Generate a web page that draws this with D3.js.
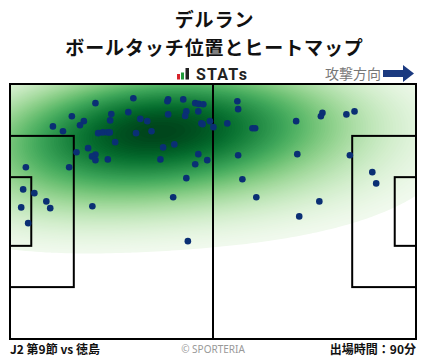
<!DOCTYPE html>
<html><head><meta charset="utf-8">
<script src="https://cdn.jsdelivr.net/npm/d3@7"></script>
<style>body{margin:0;background:#fff;} svg{display:block;}</style>
</head><body><svg id="c" width="428" height="359"></svg>
<script>
// ---- data ----
const titleLines = ["デルラン", "ボールタッチ位置とヒートマップ"];
const brandLabel = "STATs";
const directionLabel = "攻撃方向";
const matchLabel = "J2 第9節 vs 徳島";
const creditLabel = "© SPORTERIA";
const minutesLabel = "出場時間：90分";
const pitchDims = [105, 68];           // metres (length, width)
// ball touch positions (metres from own goal line / top touchline)
const touchX = [22.1,31.9,16.0,19.1,18.1,11.1,13.7,26.2,25.9,30.6,33.7,35.5,32.6,22.8,24.0,25.2,25.8,36.6,27.2,20.2,
  17.2,22.1,21.2,22.1,25.3,4.1,15.3,40.9,40.7,44.8,47.9,48.8,50.0,58.8,59.0,45.6,45.3,48.7,40.9,51.7,
  49.5,49.8,52.6,56.2,62.7,63.4,39.6,42.5,48.7,59.0,38.9,47.9,51.0,74.0,80.8,80.4,87.0,89.1,74.3,87.9,
  3.4,6.3,9.4,10.4,2.9,4.7,21.3,45.6,42.2,46.0,60.1,63.7,80.0,74.8,93.7,94.7];
const touchY = [5.1,3.8,8.6,9.9,11.0,11.3,12.6,8.0,9.7,7.5,9.3,9.9,13.1,13.1,12.9,12.9,12.9,12.6,15.5,17.1,
  18.2,18.8,19.3,20.3,20.1,22.2,22.2,4.1,4.6,4.1,5.1,5.3,5.4,4.6,6.7,7.3,8.5,7.3,8.1,9.9,
  10.5,10.7,11.5,10.5,11.8,11.8,16.9,16.1,18.7,19.0,20.1,21.4,20.3,9.9,7.7,8.6,8.1,7.3,18.7,19.0,
  28.1,29.1,31.3,33.1,32.9,37.1,32.6,25.1,30.2,41.9,25.4,30.2,31.3,35.3,23.5,26.5];
const penaltyBox = [16.5, 40.32];
const goalArea = [5.5, 18.32];

// ---- setup ----
const svg = d3.select("#c");
const x = d3.scaleLinear().domain([0, pitchDims[0]]).range([10, 416]);
const y = d3.scaleLinear().domain([0, pitchDims[1]]).range([84, 339]);

// ---- KDE (gaussian, full covariance, Scott factor * adjust) ----
const bwAdjust = 2.4, thresh = 0.12;
const n = touchX.length;
const mx = d3.mean(touchX), my = d3.mean(touchY);
let sxx = 0, syy = 0, sxy = 0;
for (let i = 0; i < n; i++) {
  const dx = touchX[i] - mx, dy = touchY[i] - my;
  sxx += dx * dx; syy += dy * dy; sxy += dx * dy;
}
sxx /= (n - 1); syy /= (n - 1); sxy /= (n - 1);
const f2 = Math.pow(n, -1 / 3) * bwAdjust * bwAdjust;
const kxx = sxx * f2, kyy = syy * f2, kxy = sxy * f2;
const det = kxx * kyy - kxy * kxy;
const ixx = kyy / det, iyy = kxx / det, ixy = -kxy / det;
const bwx = Math.sqrt(kxx), bwy = Math.sqrt(kyy);
const G = 200;
const gx0 = d3.min(touchX) - 3 * bwx, gx1 = d3.max(touchX) + 3 * bwx;
const gy0 = d3.min(touchY) - 3 * bwy, gy1 = d3.max(touchY) + 3 * bwy;
const stepX = (gx1 - gx0) / (G - 1), stepY = (gy1 - gy0) / (G - 1);
const vals = new Float64Array(G * G);
for (let j = 0; j < G; j++) {
  const py = gy0 + j * stepY;
  for (let i = 0; i < G; i++) {
    const px = gx0 + i * stepX;
    let s = 0;
    for (let k = 0; k < n; k++) {
      const dx = px - touchX[k], dy = py - touchY[k];
      s += Math.exp(-0.5 * (ixx * dx * dx + 2 * ixy * dx * dy + iyy * dy * dy));
    }
    vals[i + j * G] = s;
  }
}
// iso-proportion levels (thresh .. 1)
const sorted = Array.from(vals).sort((a, b) => b - a);
const total = d3.sum(sorted);
const cum = []; let acc = 0;
for (const v of sorted) { acc += v; cum.push(acc / total); }
function quantToLevel(q) {
  let idx = d3.bisectLeft(cum, 1 - q);
  idx = Math.min(Math.max(idx, 0), sorted.length - 1);
  return sorted[idx];
}
const NL = 100;
const levels = d3.range(NL).map(i => quantToLevel(thresh + ((1 - thresh) * i) / (NL - 1)));
const uniq = Array.from(new Set(levels)).sort((a, b) => a - b);
const lmin = uniq[0], lmax = uniq[uniq.length - 1];
const contours = d3.contours().size([G, G]).thresholds(uniq)(vals);

const proj = d3.geoTransform({
  point: function (cx, cy) {
    this.stream.point(x(gx0 + (cx - 0.5) * stepX), y(gy0 + (cy - 0.5) * stepY));
  }
});
const path = d3.geoPath(proj);

svg.append("defs").append("clipPath").attr("id", "fieldClip")
  .append("rect").attr("x", x(0)).attr("y", y(0))
  .attr("width", x(pitchDims[0]) - x(0)).attr("height", y(pitchDims[1]) - y(0));

const heat = svg.append("g").attr("clip-path", "url(#fieldClip)");
contours.forEach((c, i) => {
  const next = i + 1 < uniq.length ? uniq[i + 1] : lmax;
  const t = 0.04 + 0.96 * ((c.value + next) / 2 - lmin) / (lmax - lmin);
  heat.append("path").attr("d", path(c)).attr("fill", d3.interpolateGreens(t)).attr("stroke", "none");
});

// ---- pitch lines ----
const lines = svg.append("g").attr("fill", "none").attr("stroke", "#000").attr("stroke-width", 2);
const L = pitchDims[0], Wd = pitchDims[1];
function rect(x0, y0, x1, y1) {
  lines.append("rect").attr("x", x(x0)).attr("y", y(y0))
    .attr("width", x(x1) - x(x0)).attr("height", y(y1) - y(y0));
}
rect(0, 0, L, Wd);
rect(0, (Wd - penaltyBox[1]) / 2, penaltyBox[0], (Wd + penaltyBox[1]) / 2);
rect(L - penaltyBox[0], (Wd - penaltyBox[1]) / 2, L, (Wd + penaltyBox[1]) / 2);
rect(0, (Wd - goalArea[1]) / 2, goalArea[0], (Wd + goalArea[1]) / 2);
rect(L - goalArea[0], (Wd - goalArea[1]) / 2, L, (Wd + goalArea[1]) / 2);
lines.append("line").attr("x1", x(L / 2)).attr("x2", x(L / 2)).attr("y1", y(0)).attr("y2", y(Wd));

// ---- dots ----
svg.append("g").selectAll("circle").data(d3.range(n)).join("circle")
  .attr("cx", i => x(touchX[i])).attr("cy", i => y(touchY[i])).attr("r", 3.3)
  .attr("fill", "#0a2f74");

// ---- texts ----
const jp = "'Noto Sans CJK JP', 'Noto Sans', sans-serif";
svg.append("text").attr("x", 214.5).attr("y", 27).attr("text-anchor", "middle").attr("letter-spacing", 0.9)
  .attr("font-family", jp).attr("font-weight", "bold").attr("font-size", 19).attr("fill", "#111").text(titleLines[0]);
svg.append("text").attr("x", 214.5).attr("y", 54.8).attr("text-anchor", "middle").attr("letter-spacing", 0.9)
  .attr("font-family", jp).attr("font-weight", "bold").attr("font-size", 19).attr("fill", "#111").text(titleLines[1]);

// STATs logo
const logo = svg.append("g");
logo.append("rect").attr("x", 177).attr("y", 74).attr("width", 3).attr("height", 5.5).attr("fill", "#d7232b");
logo.append("rect").attr("x", 181).attr("y", 72.5).attr("width", 3).attr("height", 7).attr("fill", "#1e9a3a");
logo.append("rect").attr("x", 185.5).attr("y", 68).attr("width", 3.5).attr("height", 11.5).attr("fill", "#222");
logo.append("text").attr("x", 196).attr("y", 79.5).attr("font-family", "Roboto, 'DejaVu Sans', sans-serif")
  .attr("letter-spacing", 1.2).attr("font-weight", "bold").attr("font-size", 16).attr("fill", "#222").text(brandLabel);

svg.append("text").attr("x", 381).attr("y", 79).attr("text-anchor", "end")
  .attr("font-family", jp).attr("font-size", 14).attr("fill", "#777").text(directionLabel);
svg.append("path").attr("d", "M383,70 L403,70 L403,65 L414,73.5 L403,82 L403,77 L383,77 Z").attr("fill", "#1b3a80");

svg.append("text").attr("x", 10).attr("y", 354).attr("font-family", jp).attr("font-weight", "bold")
  .attr("font-size", 12).attr("fill", "#111").text(matchLabel);
svg.append("text").attr("x", 213).attr("y", 353).attr("text-anchor", "middle").attr("font-family", "'Noto Sans', sans-serif")
  .attr("font-size", 10).attr("fill", "#999").text(creditLabel);
svg.append("text").attr("x", 416).attr("y", 354).attr("text-anchor", "end").attr("font-family", jp).attr("font-weight", "bold")
  .attr("font-size", 12).attr("fill", "#111").text(minutesLabel);
</script></body></html>
